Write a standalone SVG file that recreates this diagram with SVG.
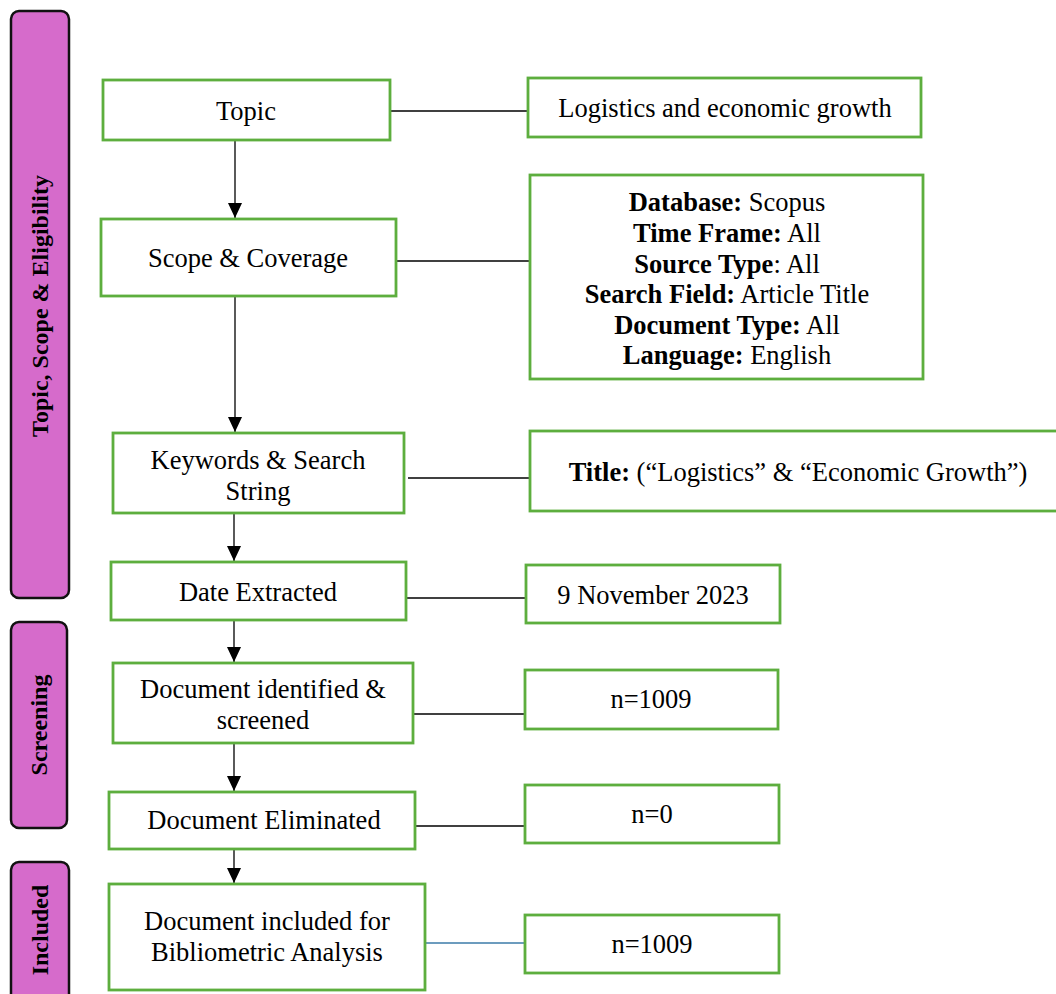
<svg xmlns="http://www.w3.org/2000/svg" width="1056" height="994" viewBox="0 0 1056 994">
<style>
.side{fill:#D66BCB;stroke:#111;stroke-width:2.5}
.st{font-family:"Liberation Serif",serif;font-weight:bold;font-size:24px;fill:#000;text-anchor:middle}
.box{fill:#fff;stroke:#5DAE3E;stroke-width:2.8}
.t{font-family:"Liberation Serif",serif;font-size:26.5px;fill:#000;text-anchor:middle}
.b{font-weight:bold}
.ln{stroke:#000;stroke-width:1.3;fill:none}
</style>
<defs>
<marker id="ah" markerWidth="15" markerHeight="14" refX="15" refY="7" orient="auto" markerUnits="userSpaceOnUse" viewBox="0 0 15 14">
<path d="M0,0 L15,7 L0,14 Z" fill="#000"/>
</marker>
</defs>
<rect width="1056" height="994" fill="#fff"/>
<g id="side-topic"><rect class="side" x="11" y="11" width="58" height="587" rx="8"/><text class="st" transform="translate(48,306) rotate(-90)">Topic, Scope &amp; Eligibility</text></g>
<g id="side-screening"><rect class="side" x="11" y="622" width="56" height="206" rx="8"/><text class="st" transform="translate(47,725) rotate(-90)">Screening</text></g>
<g id="side-included"><rect class="side" x="11" y="862" width="58" height="150" rx="8"/><text class="st" transform="translate(48,930) rotate(-90)">Included</text></g>

<g id="connectors">
<line class="ln" x1="235" y1="140" x2="235" y2="218" marker-end="url(#ah)"/>
<line class="ln" x1="235" y1="296" x2="235" y2="432" marker-end="url(#ah)"/>
<line class="ln" x1="234" y1="513" x2="234" y2="561" marker-end="url(#ah)"/>
<line class="ln" x1="234" y1="620" x2="234" y2="662" marker-end="url(#ah)"/>
<line class="ln" x1="234" y1="743" x2="234" y2="791" marker-end="url(#ah)"/>
<line class="ln" x1="234" y1="849" x2="234" y2="883" marker-end="url(#ah)"/>
<line class="ln" x1="390" y1="111" x2="528" y2="111"/>
<line class="ln" x1="396" y1="261" x2="530" y2="261"/>
<line class="ln" x1="408" y1="478" x2="530" y2="478"/>
<line class="ln" x1="406" y1="598" x2="526" y2="598"/>
<line class="ln" x1="413" y1="714" x2="525" y2="714"/>
<line class="ln" x1="415" y1="826" x2="525" y2="826"/>
<line x1="425" y1="943" x2="528" y2="943" stroke="#3B7BA8" stroke-width="1.3"/>
</g>

<g id="topic"><rect class="box" x="103" y="80" width="287" height="60"/><text class="t" x="246" y="120">Topic</text></g>
<g id="topic-value"><rect class="box" x="528" y="78" width="393" height="59"/><text class="t" x="725" y="117">Logistics and economic growth</text></g>
<g id="scope"><rect class="box" x="101" y="219" width="295" height="77"/><text class="t" x="248" y="267">Scope &amp; Coverage</text></g>
<g id="scope-value"><rect class="box" x="530" y="175" width="393" height="204"/>
<text class="t" x="727" y="211"><tspan class="b">Database:</tspan> Scopus</text>
<text class="t" x="727" y="242"><tspan class="b">Time Frame:</tspan> All</text>
<text class="t" x="727" y="273"><tspan class="b">Source Type</tspan>: All</text>
<text class="t" x="727" y="303"><tspan class="b">Search Field:</tspan> Article Title</text>
<text class="t" x="727" y="334"><tspan class="b">Document Type:</tspan> All</text>
<text class="t" x="727" y="364"><tspan class="b">Language:</tspan> English</text>
</g>
<g id="keywords"><rect class="box" x="113" y="433" width="291" height="80"/><text class="t" x="258" y="469">Keywords &amp; Search</text><text class="t" x="258" y="500">String</text></g>
<g id="keywords-value"><rect class="box" x="530" y="431" width="540" height="80"/><text class="t" x="798" y="481"><tspan class="b">Title:</tspan> (“Logistics” &amp; “Economic Growth”)</text></g>
<g id="date"><rect class="box" x="111" y="562" width="295" height="58"/><text class="t" x="258" y="601">Date Extracted</text></g>
<g id="date-value"><rect class="box" x="526" y="565" width="254" height="58"/><text class="t" x="653" y="604">9 November 2023</text></g>
<g id="identified"><rect class="box" x="113" y="663" width="300" height="80"/><text class="t" x="263" y="698">Document identified &amp;</text><text class="t" x="263" y="729">screened</text></g>
<g id="identified-value"><rect class="box" x="525" y="670" width="253" height="59"/><text class="t" x="651" y="708">n=1009</text></g>
<g id="eliminated"><rect class="box" x="109" y="792" width="306" height="57"/><text class="t" x="264" y="829">Document Eliminated</text></g>
<g id="eliminated-value"><rect class="box" x="525" y="785" width="254" height="58"/><text class="t" x="652" y="823">n=0</text></g>
<g id="included"><rect class="box" x="109" y="884" width="316" height="106"/><text class="t" x="267" y="930">Document included for</text><text class="t" x="267" y="961">Bibliometric Analysis</text></g>
<g id="included-value"><rect class="box" x="525" y="915" width="254" height="58"/><text class="t" x="652" y="953">n=1009</text></g>
</svg>
